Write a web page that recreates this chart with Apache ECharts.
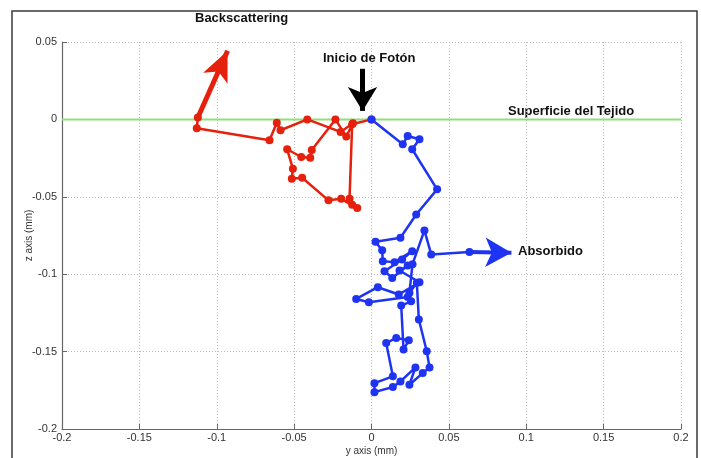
<!DOCTYPE html>
<html>
<head>
<meta charset="utf-8">
<title>Trayectoria de fotones</title>
<script src="https://cdn.jsdelivr.net/npm/echarts@6/dist/echarts.min.js"></script>
<style>
  html, body { margin: 0; padding: 0; background: #fff; }
  #chart { width: 701px; height: 458px; }
</style>
</head>
<body>
<div id="chart"></div>
<script>
// Photon random walk in tissue: [y (mm), z (mm)] per interaction point.
const backscatterPath = [
  [0, 0], [-0.0125, -0.0031], [-0.0142, -0.0513], [-0.0125, -0.0551],
  [-0.0092, -0.0573], [-0.0196, -0.0513], [-0.0278, -0.0523], [-0.0448, -0.0377],
  [-0.0515, -0.0383], [-0.0508, -0.0318], [-0.0545, -0.0193], [-0.0454, -0.0243],
  [-0.0396, -0.0247], [-0.0386, -0.0197], [-0.0233, 0.0], [-0.0163, -0.0111],
  [-0.0120, -0.0025], [-0.0200, -0.0081], [-0.0415, 0.0], [-0.0588, -0.0070],
  [-0.0612, -0.0021], [-0.0659, -0.0135], [-0.1129, -0.0057], [-0.1122, 0.0012]
];

const absorbedPath = [
  [0, 0], [0.0202, -0.0161], [0.0234, -0.0107], [0.0310, -0.0128],
  [0.0263, -0.0193], [0.0424, -0.0452], [0.0289, -0.0614], [0.0187, -0.0765],
  [0.0026, -0.0791], [0.0069, -0.0845], [0.0073, -0.0916], [0.0149, -0.0922],
  [0.0263, -0.0851], [0.0198, -0.0905], [0.0084, -0.0981], [0.0134, -0.1024],
  [0.0234, -0.0944], [0.0181, -0.0976], [0.0310, -0.1052], [0.0176, -0.1131],
  [0.0041, -0.1084], [-0.0099, -0.1160], [-0.0017, -0.1181], [0.0234, -0.1147],
  [0.0256, -0.1175], [0.0192, -0.1203], [0.0207, -0.1487], [0.0241, -0.1427],
  [0.0160, -0.1412], [0.0095, -0.1445], [0.0138, -0.1660], [0.0019, -0.1704],
  [0.0019, -0.1762], [0.0138, -0.1729], [0.0187, -0.1693], [0.0284, -0.1602],
  [0.0245, -0.1714], [0.0331, -0.1639], [0.0375, -0.1602], [0.0357, -0.1498],
  [0.0306, -0.1293], [0.0293, -0.1056], [0.0245, -0.1121], [0.0265, -0.0935],
  [0.0342, -0.0717], [0.0386, -0.0872], [0.0633, -0.0856]
];

// Tissue surface (z = 0)
const surfaceLine = [[-0.2, 0], [0.2, 0]];

// Annotation arrows: [tail, tip] in data units
const backscatterArrow = [[-0.1122, 0.0012], [-0.0930, 0.0443]];
const absorbedArrow = [[0.0633, -0.0856], [0.0904, -0.0862]];
const startArrow = [[-0.0058, 0.0327], [-0.0058, 0.0055]];

const RED = '#e5200c';
const BLUE = '#1e34f2';
const GREEN = '#8fe07a';
const FONT = '"Liberation Sans", Arial, sans-serif';

function arrowMark(pair, color, width, head) {
  return {
    silent: true,
    animation: false,
    symbol: ['none', 'arrow'],
    label: { show: false },
    emphasis: { disabled: true },
    lineStyle: { color: color, width: width, type: 'solid' },
    data: [[
      { coord: pair[0], symbol: 'none' },
      { coord: pair[1], symbol: 'arrow', symbolSize: head }
    ]]
  };
}

const fmt = v => String(parseFloat(v.toFixed(2)));

const chart = echarts.init(document.getElementById('chart'), null, { renderer: 'canvas' });

chart.setOption({
  animation: false,
  backgroundColor: '#fff',
  grid: { left: 62, right: 20, top: 42, bottom: 29, containLabel: false, outerBoundsMode: 'none' },
  xAxis: {
    type: 'value', min: -0.2, max: 0.2, interval: 0.05,
    name: 'y axis (mm)', nameLocation: 'middle', nameGap: 17, nameMoveOverlap: false,
    nameTextStyle: { fontFamily: FONT, fontSize: 10, color: '#333' },
    axisLine: { show: true, onZero: false, lineStyle: { color: '#666', width: 1.2 } },
    axisTick: { show: true, inside: true, length: 5, lineStyle: { color: '#666' } },
    axisLabel: { fontFamily: FONT, fontSize: 11, color: '#333', margin: 3, formatter: fmt },
    splitLine: { show: true, lineStyle: { color: '#bdbdbd', type: [1, 2], width: 1 } }
  },
  yAxis: {
    type: 'value', min: -0.2, max: 0.05, interval: 0.05,
    name: 'z axis (mm)', nameLocation: 'middle', nameGap: 28, nameMoveOverlap: false,
    nameTextStyle: { fontFamily: FONT, fontSize: 10, color: '#333' },
    axisLine: { show: true, onZero: false, lineStyle: { color: '#666', width: 1.2 } },
    axisTick: { show: true, inside: true, length: 5, lineStyle: { color: '#666' } },
    axisLabel: { fontFamily: FONT, fontSize: 11, color: '#333', margin: 5, formatter: fmt },
    splitLine: { show: true, lineStyle: { color: '#bdbdbd', type: [1, 2], width: 1 } }
  },
  series: [
    {
      name: 'Superficie del Tejido', type: 'line', data: surfaceLine,
      showSymbol: false, silent: true,
      lineStyle: { color: GREEN, width: 2 },
      markLine: arrowMark(startArrow, '#000', 5, [22, 24])
    },
    {
      name: 'Backscattering', type: 'line', data: backscatterPath,
      symbol: 'circle', symbolSize: 8, showAllSymbol: true,
      itemStyle: { color: RED }, lineStyle: { color: RED, width: 2.5 },
      markLine: arrowMark(backscatterArrow, RED, 5, [20, 30])
    },
    {
      name: 'Absorbido', type: 'line', data: absorbedPath,
      symbol: 'circle', symbolSize: 8, showAllSymbol: true,
      itemStyle: { color: BLUE }, lineStyle: { color: BLUE, width: 2.5 },
      markLine: arrowMark(absorbedArrow, BLUE, 4, [22, 26])
    }
  ],
  graphic: [
    {
      type: 'rect', silent: true, z: 100,
      shape: { x: 12, y: 11, width: 685, height: 470 },
      style: { fill: null, stroke: '#3a3a3a', lineWidth: 1.5 }
    },
    {
      type: 'text', left: 195, top: 12, silent: true,
      style: { text: 'Backscattering', fontFamily: FONT, fontSize: 13, fontWeight: 'bold', fill: '#111' }
    },
    {
      type: 'text', left: 323, top: 52, silent: true,
      style: { text: 'Inicio de Fotón', fontFamily: FONT, fontSize: 13, fontWeight: 'bold', fill: '#111' }
    },
    {
      type: 'text', left: 508, top: 105, silent: true,
      style: { text: 'Superficie del Tejido', fontFamily: FONT, fontSize: 13, fontWeight: 'bold', fill: '#111' }
    },
    {
      type: 'text', left: 518, top: 245, silent: true,
      style: { text: 'Absorbido', fontFamily: FONT, fontSize: 13, fontWeight: 'bold', fill: '#111' }
    }
  ]
});
</script>
</body>
</html>
